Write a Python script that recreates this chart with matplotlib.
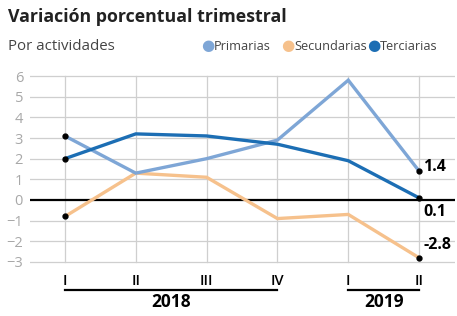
import matplotlib
matplotlib.use("Agg")
import matplotlib.pyplot as plt

plt.rcParams['font.family'] = ['Open Sans', 'DejaVu Sans']

# Data
quarters = ["I", "II", "III", "IV", "I", "II"]
primarias = [3.1, 1.3, 2.0, 2.9, 5.8, 1.4]
secundarias = [-0.8, 1.3, 1.1, -0.9, -0.7, -2.8]
terciarias = [2.0, 3.2, 3.1, 2.7, 1.9, 0.1]
years = ["2018", "2019"]
year_spans = [(0, 3), (4, 5)]

c_pri = "#7ea6d6"
c_sec = "#f6c18c"
c_ter = "#1c6eb4"

fig = plt.figure(figsize=(4.57, 3.16), dpi=100)
ax = fig.add_axes([30 / 457, 1 - 264 / 316, 425 / 457, 190 / 316])

x = list(range(len(quarters)))

# grid
for yv in range(-3, 7):
    if yv != 0:
        ax.axhline(yv, color="#cfcfcf", lw=0.9, zorder=0)
for xv in x:
    ax.plot([xv, xv], [-3, 6], color="#cfcfcf", lw=0.9, zorder=0)
ax.axhline(0, color="black", lw=1.6, zorder=1)

ax.plot(x, primarias, color=c_pri, lw=2.4, zorder=3, solid_joinstyle="miter")
ax.plot(x, secundarias, color=c_sec, lw=2.4, zorder=2, solid_joinstyle="miter")
ax.plot(x, terciarias, color=c_ter, lw=2.4, zorder=4, solid_joinstyle="miter")

# end point markers
for s in (primarias, secundarias, terciarias):
    ax.plot([x[0], x[-1]], [s[0], s[-1]], "o", color="black", ms=3.5, zorder=5)

ax.text(x[-1] + 0.06, primarias[-1] - 0.2, f"{primarias[-1]}", fontsize=11.5,
        fontweight="bold", va="bottom", ha="left")
ax.text(x[-1] + 0.06, terciarias[-1] - 0.3, f"{terciarias[-1]}", fontsize=11.5,
        fontweight="bold", va="top", ha="left")
ax.text(x[-1] + 0.06, secundarias[-1] + 0.25, f"{secundarias[-1]}", fontsize=11.5,
        fontweight="bold", va="bottom", ha="left")

ax.set_xlim(-0.493, 5.507)
ax.set_ylim(-3.1, 6.1)
ax.set_yticks(range(-3, 7))
ax.set_xticks(x)
ax.set_xticklabels(quarters, fontsize=10.5, fontweight="semibold")
ax.tick_params(axis="x", length=0, pad=7)
ax.tick_params(axis="y", length=0, pad=5, labelcolor="#a8a8a8", labelsize=10.5)
for sp in ax.spines.values():
    sp.set_visible(False)

# year brackets
for label, (a, b) in zip(years, year_spans):
    ax.plot([a, b], [-4.35, -4.35], color="black", lw=1.6, clip_on=False)
    ax.text((a + b) / 2, -4.95, label, fontsize=12.5, fontweight="bold",
            ha="center", va="center")

fig.text(8 / 457, 1 - 17 / 316, "Variación porcentual trimestral", fontsize=12.8,
         fontweight="bold", va="center", ha="left", color="#222222")
fig.text(8 / 457, 1 - 46 / 316, "Por actividades", fontsize=10.8,
         va="center", ha="left", color="#444444")

legend_items = [("Primarias", c_pri, 208), ("Secundarias", c_sec, 288), ("Terciarias", c_ter, 374)]
for name, col, px in legend_items:
    fig.text(px / 457, 1 - 46 / 316, "\u25cf", color=col, fontsize=11,
             va="center", ha="center", family="DejaVu Sans")
    fig.text((px + 6) / 457, 1 - 46 / 316, name, fontsize=9.2,
             va="center", ha="left", color="#444444")

fig.savefig("out.png", dpi=100)
